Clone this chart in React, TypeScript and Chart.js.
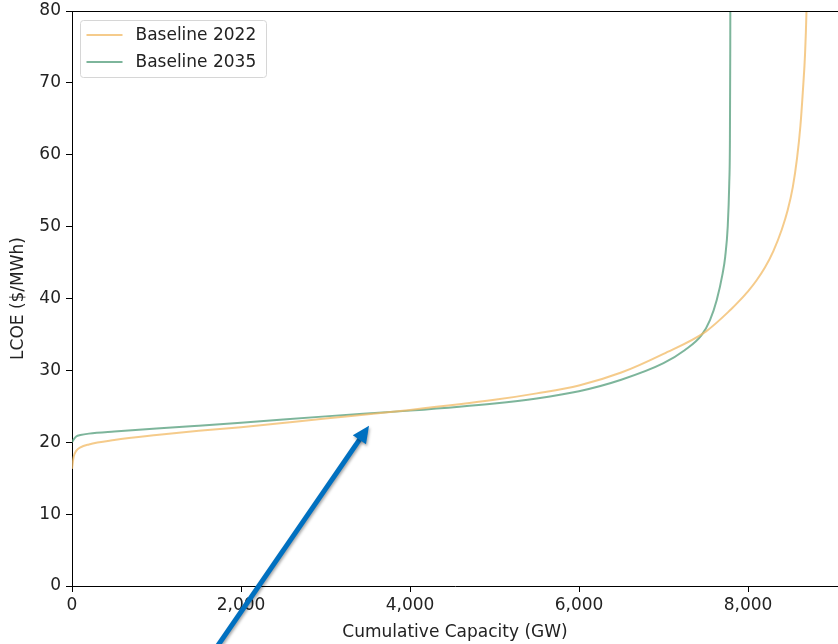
import React, { useEffect, useRef } from "react";
import { Chart, registerables } from "chart.js";

Chart.register(...registerables);

// ---- data ----
const seriesLabels = ["Baseline 2022", "Baseline 2035"];
const capacity2022 = [0, 20, 50, 100, 200, 500, 1000, 1500, 2000, 3000, 4000, 5000, 5500, 6000, 6500, 7000, 7500, 7800, 7900, 8000, 8100, 8200, 8300, 8400, 8470, 8530, 8580, 8620, 8650, 8675, 8692, 8705];
const lcoe2022 = [16.3, 18.0, 18.8, 19.3, 19.7, 20.3, 21.0, 21.6, 22.1, 23.3, 24.5, 25.9, 26.8, 27.9, 29.7, 32.3, 35.4, 38.5, 39.7, 41.0, 42.5, 44.3, 46.6, 49.6, 52.3, 55.5, 59.5, 64.0, 69.0, 74.0, 80.0, 88.0];
const capacity2035 = [0, 20, 50, 100, 200, 500, 1000, 1500, 2000, 3000, 4000, 5000, 5500, 6000, 6500, 7000, 7250, 7450, 7550, 7630, 7700, 7730, 7760, 7778, 7786, 7790, 7792];
const lcoe2035 = [20.0, 20.4, 20.8, 21.0, 21.2, 21.5, 21.9, 22.3, 22.7, 23.6, 24.4, 25.4, 26.1, 27.1, 28.7, 31.0, 32.8, 34.9, 37.0, 39.8, 43.5, 45.8, 50.0, 56.0, 62.0, 75.0, 90.0];
const xTickValues = [0, 2000, 4000, 6000, 8000];
const xTickLabels = ["0", "2,000", "4,000", "6,000", "8,000"];
const yTickValues = [0, 10, 20, 30, 40, 50, 60, 70, 80];
const yTickLabels = ["0", "10", "20", "30", "40", "50", "60", "70", "80"];
const xTitle = "Cumulative Capacity (GW)";
const yTitle = "LCOE ($/MWh)";
// annotation arrow, in data coordinates (tail -> tip)
const arrowTail = { x: 1444, y: -13.1 };
const arrowTip = { x: 3515, y: 22.3 };

const colors = ["rgba(242,186,100,0.75)", "rgba(82,156,121,0.75)"];
const FONT = "'DejaVu Sans', sans-serif";
const TEXT = "#222";

const framePlugin = {
  id: "frameAndLegend",
  afterDatasetsDraw(chart: any) {
    const { ctx, chartArea } = chart;
    ctx.save();
    // top spine
    ctx.strokeStyle = "#000";
    ctx.lineWidth = 1;
    ctx.beginPath();
    ctx.moveTo(chartArea.left, chartArea.top + 0.5);
    ctx.lineTo(chartArea.right, chartArea.top + 0.5);
    ctx.stroke();

    // legend box (matplotlib-like)
    const bx = chartArea.left + 8.5;
    const by = chartArea.top + 9.5;
    const bw = 186;
    const bh = 57;
    const r = 3;
    ctx.beginPath();
    ctx.moveTo(bx + r, by);
    ctx.lineTo(bx + bw - r, by);
    ctx.quadraticCurveTo(bx + bw, by, bx + bw, by + r);
    ctx.lineTo(bx + bw, by + bh - r);
    ctx.quadraticCurveTo(bx + bw, by + bh, bx + bw - r, by + bh);
    ctx.lineTo(bx + r, by + bh);
    ctx.quadraticCurveTo(bx, by + bh, bx, by + bh - r);
    ctx.lineTo(bx, by + r);
    ctx.quadraticCurveTo(bx, by, bx + r, by);
    ctx.closePath();
    ctx.fillStyle = "rgba(255,255,255,0.85)";
    ctx.fill();
    ctx.strokeStyle = "#d6d6d6";
    ctx.stroke();

    ctx.font = `17px ${FONT}`;
    ctx.textBaseline = "middle";
    ctx.textAlign = "left";
    chart.data.datasets.forEach((ds: any, i: number) => {
      const yy = by + 14.5 + i * 27;
      ctx.strokeStyle = ds.borderColor;
      ctx.lineWidth = 2;
      ctx.beginPath();
      ctx.moveTo(bx + 6, yy);
      ctx.lineTo(bx + 42, yy);
      ctx.stroke();
      ctx.fillStyle = TEXT;
      ctx.fillText(ds.label, bx + 55, yy + 1);
    });
    ctx.restore();
  },
  afterDraw(chart: any) {
    const { ctx } = chart;
    const xs = chart.scales.x;
    const ys = chart.scales.y;
    const x0 = xs.getPixelForValue(arrowTail.x);
    const y0 = ys.getPixelForValue(arrowTail.y);
    const x1 = xs.getPixelForValue(arrowTip.x);
    const y1 = ys.getPixelForValue(arrowTip.y);
    const ang = Math.atan2(y1 - y0, x1 - x0);
    const headLen = 17;
    const headHalf = 8;
    const bxp = x1 - headLen * Math.cos(ang);
    const byp = y1 - headLen * Math.sin(ang);
    ctx.save();
    ctx.shadowColor = "rgba(0,0,0,0.35)";
    ctx.shadowBlur = 3;
    ctx.shadowOffsetX = 1;
    ctx.shadowOffsetY = 2;
    ctx.strokeStyle = "#0070C0";
    ctx.fillStyle = "#0070C0";
    ctx.lineWidth = 5;
    ctx.beginPath();
    ctx.moveTo(x0, y0);
    ctx.lineTo(bxp + 2 * Math.cos(ang), byp + 2 * Math.sin(ang));
    ctx.stroke();
    ctx.beginPath();
    ctx.moveTo(x1, y1);
    ctx.lineTo(bxp + headHalf * Math.sin(ang), byp - headHalf * Math.cos(ang));
    ctx.lineTo(bxp - headHalf * Math.sin(ang), byp + headHalf * Math.cos(ang));
    ctx.closePath();
    ctx.fill();
    ctx.restore();
  },
};

export default function App() {
  const ref = useRef<HTMLCanvasElement | null>(null);
  useEffect(() => {
    if (!ref.current) return;
    const chart = new Chart(ref.current, {
      type: "line",
      data: {
        datasets: [
          {
            label: seriesLabels[0],
            data: capacity2022.map((x, i) => ({ x, y: lcoe2022[i] })),
            borderColor: colors[0],
            borderWidth: 2,
            pointRadius: 0,
            cubicInterpolationMode: "monotone",
            fill: false,
          },
          {
            label: seriesLabels[1],
            data: capacity2035.map((x, i) => ({ x, y: lcoe2035[i] })),
            borderColor: colors[1],
            borderWidth: 2,
            pointRadius: 0,
            cubicInterpolationMode: "monotone",
            fill: false,
          },
        ],
      },
      options: {
        responsive: false,
        animation: false,
        layout: { padding: { top: 11, right: 0, bottom: 0, left: 0 } },
        plugins: { legend: { display: false }, tooltip: { enabled: false } },
        scales: {
          x: {
            type: "linear",
            min: 0,
            max: 9065,
            afterFit: (s: any) => {
              s.height = 58;
              s.paddingLeft = 0;
              s.paddingRight = 0;
            },
            afterBuildTicks: (s: any) => {
              s.ticks = xTickValues.map((v) => ({ value: v }));
            },
            ticks: {
              callback: (_v: any, i: number) => xTickLabels[i],
              font: { family: FONT, size: 17 },
              color: TEXT,
              padding: 3,
              maxRotation: 0,
              autoSkip: false,
            },
            grid: { drawOnChartArea: false, drawTicks: true, tickLength: 6, color: "#000" },
            border: { display: true, color: "#000", width: 1 },
            title: {
              display: true,
              text: xTitle,
              font: { family: FONT, size: 17 },
              color: TEXT,
              padding: { top: 0, bottom: 1 },
            },
          },
          y: {
            type: "linear",
            min: 0,
            max: 80,
            afterFit: (s: any) => {
              s.width = 72;
              s.paddingTop = 0;
              s.paddingBottom = 0;
            },
            afterBuildTicks: (s: any) => {
              s.ticks = yTickValues.map((v) => ({ value: v }));
            },
            ticks: {
              callback: (_v: any, i: number) => yTickLabels[i],
              font: { family: FONT, size: 17 },
              color: TEXT,
              padding: 5,
              autoSkip: false,
            },
            grid: { drawOnChartArea: false, drawTicks: true, tickLength: 6, color: "#000" },
            border: { display: true, color: "#000", width: 1 },
            title: {
              display: true,
              text: yTitle,
              font: { family: FONT, size: 17 },
              color: TEXT,
              padding: { top: 8, bottom: 0 },
            },
          },
        },
      },
      plugins: [framePlugin],
    } as any);
    return () => chart.destroy();
  }, []);
  return (
    <div style={{ position: "fixed", left: 0, top: 0, width: 838, height: 644, background: "#fff" }}>
      <canvas ref={ref} width={838} height={644} style={{ display: "block" }} />
    </div>
  );
}
